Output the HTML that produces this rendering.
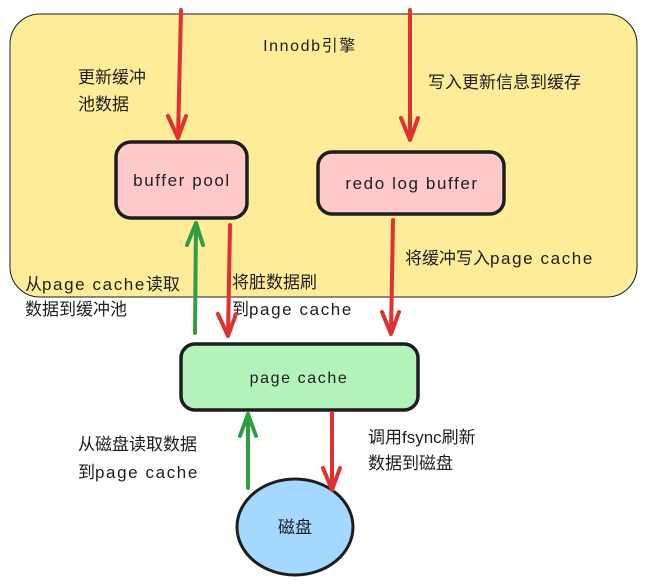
<!DOCTYPE html>
<html><head><meta charset="utf-8"><style>
html,body{margin:0;padding:0;background:#fff;width:647px;height:588px;overflow:hidden}
svg text{font-family:"Liberation Sans","Noto Sans CJK SC",sans-serif;fill:#1e1e1e}
.l{letter-spacing:1.6px}
</style></head><body>
<svg width="647" height="588" viewBox="0 0 647 588" xmlns="http://www.w3.org/2000/svg">
<rect x="10" y="14" width="627" height="283" rx="30" fill="#ffec99" stroke="#1e1e1e" stroke-width="1"/>
<text x="310" y="51" font-size="16" text-anchor="middle" class="l">Innodb引擎</text>
<g font-size="17">
<text x="78" y="83">更新缓冲</text><text x="78" y="110">池数据</text>
<text x="428" y="88">写入更新信息到缓存</text>
<text x="405" y="264">将缓冲写入<tspan class="l">page cache</tspan></text>
<text x="25" y="290">从<tspan class="l">page cache</tspan>读取</text><text x="25" y="315">数据到缓冲池</text>
<text x="232" y="288">将脏数据刷</text><text x="232" y="315">到<tspan class="l">page cache</tspan></text>
<text x="78" y="450">从磁盘读取数据</text><text x="78" y="478">到<tspan class="l">page cache</tspan></text>
<text x="368" y="443">调用fsync刷新</text><text x="368" y="469">数据到磁盘</text>
</g>
<rect x="116" y="142" width="131" height="76" rx="15" fill="#ffc9c9" stroke="#1e1e1e" stroke-width="3.5"/>
<text x="182" y="186" font-size="17" text-anchor="middle" class="l">buffer pool</text>
<rect x="318" y="152" width="186" height="62" rx="14" fill="#ffc9c9" stroke="#1e1e1e" stroke-width="3.5"/>
<text x="412" y="189" font-size="17" text-anchor="middle" class="l">redo log buffer</text>
<rect x="181" y="344" width="237" height="66" rx="14" fill="#b2f2bb" stroke="#1e1e1e" stroke-width="3.5"/>
<text x="299" y="383" font-size="16" text-anchor="middle" class="l">page cache</text>
<ellipse cx="295" cy="527" rx="58" ry="48" fill="#a5d8ff" stroke="#1e1e1e" stroke-width="3"/>
<text x="295" y="533" font-size="17" text-anchor="middle">磁盘</text>
<g fill="none" stroke-width="4" stroke-linecap="round" stroke-linejoin="round">
<g stroke="#e03131">
<path d="M181 10 L178 138 M168 116 L178 138 L186 116"/>
<path d="M410 10 L410 140 M401 118 L410 140 L418 118"/>
<path d="M230 225 L228 336 M218 314 L228 336 L236 314"/>
<path d="M393 220 L391 334 M382 312 L391 334 L399 312"/>
<path d="M332 413 L332 490 M323 468 L332 490 L340 468"/>
</g>
<g stroke="#2f9e44">
<path d="M195 333 L196 223 M187 245 L196 223 L203 245"/>
<path d="M248 488 L248 414 M240 436 L248 414 L256 436"/>
</g>
</g>
</svg>
</body></html>
